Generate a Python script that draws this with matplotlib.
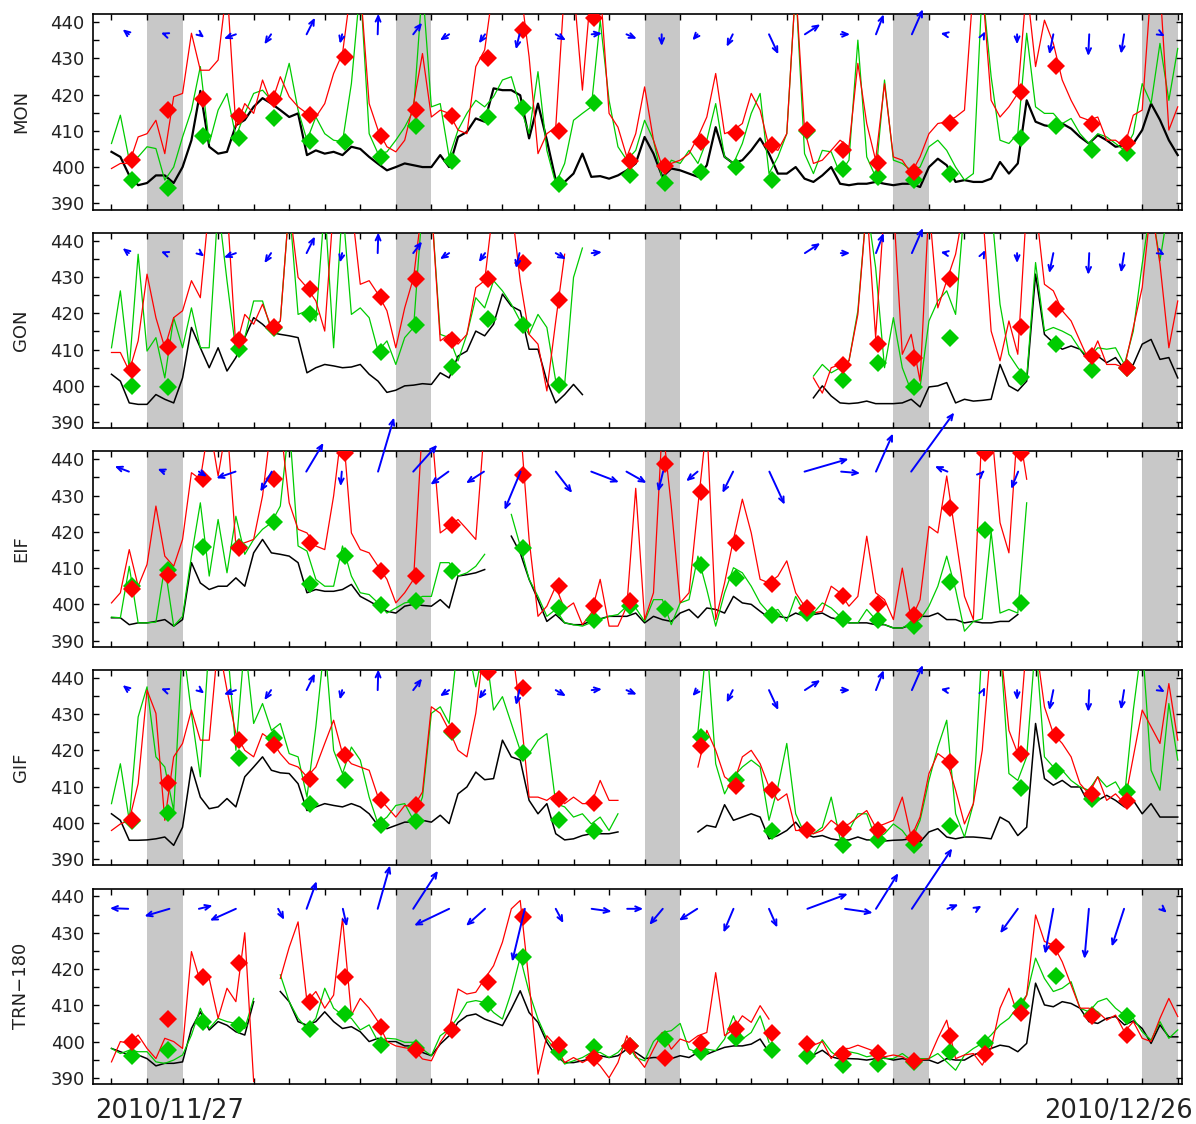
import numpy as np
import matplotlib
matplotlib.use('Agg')
import matplotlib.pyplot as plt
from matplotlib.ticker import MultipleLocator

nan = np.nan

# ---------------- data (6-hourly from 2010/11/27 00:00, day units) ----------------
STATIONS = ['MON', 'GON', 'EIF', 'GIF', 'TRN\u2212180']
SUNDAYS = [1, 8, 15, 22, 29]
STEP = 0.25
MARK_T = [d + 0.58 for d in range(30)]

MON_black = [404.2, 402.8, 397.7, 395.0, 395.6, 397.7, 397.7, 395.6, 400.0, 407.4, 421.0, 405.6,
 403.7, 404.2, 411.5, 413.0, 416.6, 419.0, 417.5, 415.7, 413.8, 414.8, 403.3, 404.6,
 403.7, 404.2, 403.3, 405.6, 405.0, 402.8, 400.9, 399.1, 400.0, 401.0, 400.5, 400.0,
 400.0, 403.3, 400.0, 408.3, 409.7, 413.4, 412.5, 421.7, 421.2, 421.2, 419.8, 407.9,
 417.5, 407.4, 396.4, 395.9, 398.2, 403.7, 397.3, 397.5, 396.8, 397.7, 399.1, 401.0,
 408.3, 403.7, 397.3, 399.6, 399.1, 398.2, 397.3, 400.5, 411.0, 402.8, 401.0, 401.9,
 404.6, 407.9, 403.7, 398.2, 398.2, 400.0, 396.8, 395.9, 397.7, 400.0, 395.4, 395.0,
 395.4, 395.4, 395.9, 395.4, 395.0, 395.4, 395.4, 394.5, 400.0, 402.3, 400.5, 395.9,
 396.4, 395.9, 395.9, 396.8, 401.4, 398.2, 401.0, 418.4, 412.5, 411.5, 411.1, 412.0,
 410.6, 408.3, 406.5, 408.8, 407.4, 405.6, 406.0, 406.5, 410.2, 417.5, 413.0, 407.4,
 403.3]
MON_green = [406.5, 414.3, 401.9, 402.8, 405.6, 405.1, 396.4, 400.0, 408.3, 415.7, 427.7, 406.5,
 415.7, 420.3, 408.3, 414.8, 420.3, 421.2, 418.4, 419.4, 428.6, 415.7, 407.4, 413.8,
 409.2, 407.4, 407.0, 423.0, 450.0, 409.2, 403.7, 404.2, 407.4, 411.0, 415.7, 450.0,
 416.6, 417.5, 402.8, 410.2, 414.8, 418.4, 416.6, 419.4, 424.0, 424.9, 416.6, 409.2,
 426.3, 404.6, 395.4, 401.0, 412.9, 414.8, 416.6, 440.5, 418.4, 405.6, 401.9, 404.6,
 412.9, 407.4, 396.4, 401.9, 401.0, 404.6, 401.0, 407.4, 417.5, 402.8, 401.0, 406.5,
 414.8, 420.3, 398.2, 402.8, 409.2, 450.0, 403.7, 398.2, 404.6, 404.2, 398.2, 401.9,
 435.0, 402.8, 397.3, 424.0, 401.9, 401.0, 399.1, 400.0, 405.6, 407.4, 404.6, 400.0,
 396.4, 398.2, 450.0, 424.9, 407.4, 406.5, 409.2, 436.9, 416.6, 414.8, 414.8, 412.0,
 413.4, 409.2, 406.5, 409.2, 408.3, 406.5, 404.6, 409.2, 423.0, 417.5, 434.1, 418.4,
 432.7]
MON_red = [399.6, 401.0, 401.0, 408.3, 409.2, 412.9, 403.7, 419.4, 420.3, 436.9, 426.7, 426.7,
 429.5, 450.0, 411.0, 417.5, 414.8, 424.0, 417.5, 424.9, 419.4, 416.6, 414.8, 413.8,
 417.5, 425.8, 431.3, 450.0, 450.0, 417.5, 410.2, 405.6, 404.2, 407.4, 417.5, 431.3,
 413.8, 415.7, 414.8, 410.2, 409.2, 427.7, 432.3, 450.0, 450.0, 450.0, 450.0, 430.4,
 403.7, 409.2, 411.0, 450.0, 450.0, 421.2, 450.0, 450.0, 414.8, 411.0, 402.8, 409.2,
 422.1, 407.4, 400.0, 401.0, 401.9, 403.7, 408.3, 413.8, 425.8, 409.2, 410.2, 412.0,
 420.3, 415.7, 405.6, 404.6, 409.2, 450.0, 410.2, 401.0, 401.9, 404.6, 407.4, 405.6,
 428.6, 412.0, 401.9, 423.0, 402.8, 401.9, 398.2, 402.8, 409.2, 412.0, 412.5, 413.8,
 415.7, 450.0, 450.0, 418.4, 413.8, 416.6, 420.3, 450.0, 427.7, 440.5, 434.1, 424.0,
 418.4, 413.8, 412.9, 413.8, 407.4, 407.4, 405.6, 414.3, 415.7, 450.0, 450.0, 410.2,
 416.6]
MON_red_d = [401.9, 415.7, 418.7, 414.1, 418.7, 414.3, 430.4, 408.6, 415.7, 414.0, 430.1, 437.8,
 410.0, 441.0, 401.6, 400.2, 406.9, 409.5, 406.2, 410.2, 404.8, 401.0, 398.7, 412.2,
 nan, 420.6, 427.8, 411.8, 406.7, nan]
MON_green_d = [396.4, 394.3, 408.5, 407.9, 413.4, 407.2, 406.9, 402.8, 411.3, 401.7, 413.7, 416.4,
 395.4, 417.8, 397.7, 395.6, 398.7, 400.0, 396.4, 409.9, 399.6, 397.3, 396.4, 398.2,
 nan, 407.9, 411.3, 404.6, 403.9, nan]

GON_black = [403.2, 401.3, 395.3, 394.9, 394.9, 397.6, 396.3, 395.3, 402.2, 416.1, 410.5, 405.0,
 410.5, 404.1, 407.8, 413.3, 418.8, 417.0, 414.7, 414.2, 413.8, 413.3, 403.6, 405.0,
 405.9, 405.5, 405.0, 405.2, 405.9, 403.2, 401.3, 398.2, 398.8, 400.0, 400.2, 400.6,
 400.4, 403.6, 402.2, 408.2, 409.6, 415.1, 413.8, 417.0, 425.3, 422.0, 420.7, 410.1,
 410.1, 401.3, 395.3, 397.6, 400.4, 397.6, nan, nan, nan, nan, nan, nan,
 nan, nan, nan, nan, nan, nan, nan, nan, nan, nan, nan, nan,
 nan, nan, nan, nan, nan, nan, nan, 396.7, 400.0, 397.2, 395.3, 395.1,
 395.3, 395.8, 395.1, 395.1, 395.1, 395.3, 396.3, 394.2, 399.7, 400.0, 400.9, 395.3,
 396.3, 395.8, 396.0, 396.3, 405.9, 400.0, 398.6, 401.3, 430.8, 414.2, 411.9, 410.1,
 411.0, 410.1, 406.9, 408.2, 406.4, 407.8, 404.5, 405.9, 411.5, 412.8, 407.3, 407.8,
 402.2]
GON_green = [410.5, 426.2, 404.6, 436.3, 409.6, 413.3, 402.2, 418.8, 410.5, 421.5, 410.5, 410.5,
 450.0, 429.0, 409.6, 413.3, 423.4, 423.4, 415.1, 417.9, 450.0, 419.7, 420.7, 417.9,
 450.0, 410.5, 450.0, 419.7, 421.5, 418.8, 409.6, 412.4, 405.9, 413.3, 416.1, 450.0,
 450.0, 414.2, 413.3, 406.9, 414.2, 424.3, 421.5, 429.0, 426.2, 422.5, 417.9, 414.2,
 419.7, 416.1, 401.3, 400.4, 429.9, 438.0, nan, nan, nan, nan, nan, nan,
 nan, nan, nan, nan, nan, nan, nan, nan, nan, nan, nan, nan,
 nan, nan, nan, nan, nan, nan, nan, 402.7, 405.9, 403.6, 405.0, 406.9,
 420.7, 450.0, 432.6, 405.0, 418.8, 405.0, 398.6, 399.5, 417.9, 423.4, 426.2, 419.7,
 450.0, 450.0, 450.0, 450.0, 422.5, 408.7, 405.0, 402.2, 434.0, 415.1, 416.1, 415.1,
 413.8, 410.1, 407.8, 410.5, 410.1, 410.5, 405.9, 415.1, 433.6, 450.0, 434.5, 450.0,
 450.0]
GON_red = [409.2, 409.2, 404.1, 412.4, 430.8, 418.8, 410.5, 418.8, 420.7, 429.0, 424.3, 450.0,
 450.0, 450.0, 410.5, 419.7, 417.0, 422.5, 416.1, 417.9, 450.0, 429.9, 427.1, 423.4,
 415.1, 450.0, 450.0, 450.0, 428.0, 429.0, 425.3, 420.7, 410.5, 421.5, 429.9, 450.0,
 450.0, 412.4, 414.2, 411.5, 414.2, 427.1, 429.0, 450.0, 450.0, 450.0, 429.0, 414.2,
 411.5, 398.6, 417.9, 436.3, nan, nan, nan, nan, nan, nan, nan, nan,
 nan, nan, nan, nan, nan, nan, nan, nan, nan, nan, nan, nan,
 nan, nan, nan, nan, nan, nan, nan, 402.2, 398.0, 405.0, 405.9, 406.9,
 419.7, 450.0, 413.3, 450.0, 450.0, 408.7, 414.2, 401.3, 450.0, 421.5, 429.0, 436.3,
 450.0, 450.0, 450.0, 415.1, 406.9, 417.9, 408.7, 450.0, 450.0, 428.0, 426.2, 420.7,
 417.9, 412.4, 406.9, 412.4, 405.9, 405.9, 405.0, 416.1, 427.1, 450.0, 433.6, 410.5,
 423.4]
GON_red_d = [404.4, 410.7, nan, 412.7, 416.1, 426.8, nan, 424.5, 429.6, 412.7, 429.4, 434.0,
 423.7, nan, nan, nan, nan, nan, nan, nan, 405.7, 411.5, 407.8, 429.4,
 nan, 416.3, 421.3, 408.2, 405.0, nan]
GON_green_d = [400.0, 399.7, nan, 410.1, 415.9, 419.9, nan, 409.4, 416.8, 405.3, 418.4, 416.7,
 400.2, nan, nan, nan, nan, nan, nan, nan, 401.5, 406.4, 399.8, 413.1,
 nan, 402.5, 411.5, 404.5, 405.0, nan]

EIF_black = [396.3, 396.3, 394.4, 394.9, 394.9, 395.3, 395.8, 394.0, 395.8, 411.5, 405.9, 404.1,
 405.0, 405.0, 407.3, 405.0, 414.2, 417.9, 414.2, 413.8, 413.3, 411.5, 403.2, 404.1,
 403.6, 403.6, 404.1, 405.5, 402.2, 400.9, 399.5, 398.1, 397.6, 399.5, 400.0, 399.7,
 399.5, 401.3, 399.0, 407.8, 408.2, 408.7, 409.6, nan, nan, 418.8, 414.2, 406.9,
 401.3, 395.3, 397.2, 394.9, 394.4, 394.4, 395.5, 396.0, 396.7, 396.7, 396.7, 397.6,
 394.9, 396.7, 395.8, 395.3, 397.6, 398.6, 396.3, 399.0, 398.6, 397.6, 402.2, 400.4,
 400.0, 398.1, 396.3, 396.7, 396.3, 397.6, 396.7, 397.2, 397.6, 396.3, 395.8, 394.9,
 394.9, 394.9, 394.4, 394.4, 393.5, 393.5, 394.4, 396.7, 396.7, 397.6, 395.8, 395.8,
 394.9, 395.3, 394.9, 394.9, 395.3, 395.3, 397.2, nan, nan, nan, nan, nan,
 nan, nan, nan, nan, nan, nan, nan, nan, nan, nan, nan, nan,
 nan]
EIF_green = [396.5, 396.3, 410.5, 394.9, 394.9, 395.1, 410.5, 394.0, 396.7, 413.3, 428.0, 407.8,
 423.4, 408.7, 424.3, 413.8, 417.9, 420.7, 422.5, 427.1, 450.0, 416.1, 414.7, 406.9,
 405.0, 405.0, 416.1, 407.8, 403.2, 402.7, 400.4, 397.6, 399.0, 400.4, 400.9, 402.2,
 402.2, 411.5, 411.5, 407.8, 408.7, 410.5, 413.8, nan, nan, 424.8, 416.1, 406.9,
 402.2, 396.7, 398.6, 394.9, 394.4, 394.0, 395.0, 395.8, 396.7, 397.2, 399.5, 399.0,
 395.3, 401.3, 401.3, 394.4, 400.4, 401.3, 413.3, 404.1, 394.0, 403.2, 410.1, 408.7,
 405.0, 400.4, 397.6, 398.6, 395.3, 402.2, 397.6, 397.6, 400.4, 399.0, 396.7, 394.9,
 394.9, 398.6, 395.8, 394.4, 393.5, 393.5, 394.9, 395.8, 399.5, 405.0, 413.3, 404.1,
 392.6, 395.3, 396.0, 420.0, 397.6, 398.6, 397.6, 428.0, nan, nan, nan, nan,
 nan, nan, nan, nan, nan, nan, nan, nan, nan, nan, nan, nan,
 nan]
EIF_red = [400.4, 403.2, 415.1, 405.0, 411.0, 427.1, 413.3, 410.5, 417.9, 436.3, 434.5, 450.0,
 435.4, 450.0, 416.1, 417.0, 417.9, 429.9, 450.0, 450.0, 428.0, 420.7, 419.7, 416.1,
 415.1, 429.9, 450.0, 419.7, 415.1, 414.2, 410.5, 406.9, 400.4, 403.2, 406.9, 450.0,
 450.0, 419.7, 421.5, 423.4, 420.7, 417.9, 450.0, nan, nan, nan, 450.0, 417.9,
 396.7, 399.5, 405.0, 398.6, 400.4, 394.4, 397.6, 406.9, 394.0, 394.0, 399.5, 432.0,
 395.8, 403.2, 450.0, 427.1, 400.4, 403.2, 427.1, 450.0, 395.8, 405.9, 417.9, 429.0,
 419.7, 406.9, 405.9, 407.8, 412.0, 403.2, 399.5, 397.6, 398.1, 405.0, 403.2, 399.5,
 402.2, 418.8, 403.2, 401.3, 395.8, 410.0, 395.8, 401.3, 421.5, 419.7, 435.4, 418.8,
 402.2, 395.8, 450.0, 450.0, 422.5, 414.2, 450.0, 434.5, nan, nan, nan, nan,
 nan, nan, nan, nan, nan, nan, nan, nan, nan, nan, nan, nan,
 nan]
EIF_red_d = [404.1, 408.0, 434.7, 415.6, 434.7, 417.0, 441.8, 409.3, 407.8, 422.0, nan, 435.6,
 405.0, 399.5, 400.9, 438.8, 431.0, 417.0, 405.7, 399.0, 402.2, 400.2, 397.2, 426.6,
 441.8, 441.8, nan, nan, nan, nan]
EIF_green_d = [405.0, 409.6, 415.8, 415.8, 422.7, 405.7, 413.3, 399.8, 400.9, 409.2, nan, 415.6,
 399.0, 395.8, 399.5, 398.8, 410.8, 407.3, 397.2, 397.6, 396.1, 395.6, 394.1, 406.1,
 420.4, 400.4, nan, nan, nan, nan]

GIF_black = [402.5, 400.7, 395.2, 395.2, 395.3, 395.6, 396.1, 393.8, 398.8, 415.4, 407.1, 403.9,
 404.4, 406.7, 404.4, 412.7, 415.4, 418.2, 414.5, 413.8, 413.6, 410.8, 403.4, 404.4,
 405.3, 404.8, 404.4, 405.3, 404.4, 402.5, 399.3, 398.4, 399.3, 400.2, 400.2, 400.7,
 400.2, 402.1, 399.8, 408.0, 409.9, 414.0, 411.9, 412.2, 422.8, 418.2, 417.3, 406.2,
 402.5, 405.3, 397.0, 395.3, 395.6, 396.5, 397.0, 397.0, 397.0, 397.5, nan, nan,
 nan, nan, nan, nan, nan, nan, 397.5, 399.3, 398.8, 405.0, 400.7, 401.6,
 402.5, 401.6, 395.6, 396.5, 397.9, 400.2, 397.0, 396.1, 396.5, 395.6, 395.2, 395.3,
 396.1, 395.3, 395.3, 395.0, 395.2, 395.3, 395.6, 394.7, 397.5, 398.4, 396.1, 395.6,
 396.1, 396.1, 395.9, 395.6, 401.6, 400.2, 396.5, 398.8, 427.4, 412.2, 410.4, 411.7,
 409.9, 409.9, 405.3, 406.2, 407.6, 406.2, 404.4, 406.2, 402.5, 405.3, 401.6, 401.6,
 401.6]
GIF_green = [405.3, 416.3, 400.7, 429.2, 437.5, 418.2, 415.4, 403.4, 450.0, 430.2, 412.7, 450.0,
 450.0, 450.0, 420.0, 450.0, 427.4, 432.9, 425.5, 427.4, 419.1, 418.2, 407.1, 426.5,
 450.0, 420.0, 413.6, 420.9, 417.3, 407.1, 399.7, 401.6, 404.8, 405.3, 400.7, 407.1,
 430.2, 432.0, 427.4, 450.0, 450.0, 437.5, 450.0, 431.1, 434.8, 427.4, 420.0, 419.1,
 422.8, 424.6, 405.3, 404.4, 401.6, 402.5, 399.7, 401.6, 397.9, 402.5, nan, nan,
 nan, nan, nan, nan, nan, nan, 425.0, 450.0, 416.3, 408.0, 412.7, 415.4,
 417.3, 415.4, 400.7, 409.9, 421.9, 402.5, 397.0, 397.0, 398.8, 407.1, 395.6, 397.9,
 402.5, 402.5, 395.6, 397.0, 399.7, 397.9, 394.7, 400.7, 411.7, 420.9, 428.3, 402.5,
 396.1, 405.3, 450.0, 450.0, 450.0, 413.6, 411.7, 418.2, 450.0, 418.2, 415.4, 414.5,
 411.7, 409.9, 409.0, 412.7, 409.9, 411.3, 407.1, 431.1, 450.0, 414.5, 409.0, 432.9,
 417.3]
GIF_red = [397.9, 399.7, 400.7, 410.8, 436.6, 430.2, 400.7, 418.2, 421.9, 431.1, 422.8, 422.8,
 450.0, 436.6, 424.6, 420.0, 418.2, 424.6, 422.8, 419.1, 416.3, 415.4, 412.7, 415.4,
 421.9, 428.3, 419.1, 416.3, 415.4, 414.5, 407.1, 404.4, 401.6, 404.8, 404.4, 408.5,
 432.0, 430.2, 425.5, 420.0, 418.2, 430.2, 450.0, 450.0, 450.0, 450.0, 431.1, 407.1,
 407.1, 406.2, 408.0, 405.3, 407.1, 405.3, 405.3, 411.7, 406.2, 406.2, nan, nan,
 nan, nan, nan, nan, nan, nan, 415.4, 425.5, 420.0, 412.7, 410.8, 418.2,
 420.0, 416.3, 409.9, 406.2, 408.0, 397.9, 397.9, 397.0, 397.9, 400.7, 398.8, 399.7,
 401.6, 403.4, 398.8, 399.7, 400.7, 407.1, 396.1, 401.6, 413.6, 419.1, 417.3, 409.0,
 399.7, 405.3, 420.0, 450.0, 450.0, 425.5, 419.1, 450.0, 450.0, 432.0, 424.6, 421.9,
 418.2, 410.8, 408.0, 412.7, 406.2, 408.0, 405.3, 418.2, 431.1, 426.5, 421.9, 438.4,
 422.8]
GIF_red_d = [400.9, 411.0, nan, 422.8, 421.4, 412.2, 418.6, 406.4, 405.0, 425.4, 441.7, 437.2,
 406.7, 405.6, nan, nan, 421.1, 410.3, 409.0, 398.1, 398.4, 398.1, 395.8, 416.8,
 nan, 418.9, 424.2, 408.0, 406.0, nan]
GIF_green_d = [400.4, 402.7, nan, 417.9, 423.4, 405.3, 411.9, 399.5, 400.5, 425.1, nan, 419.3,
 400.9, 397.7, nan, nan, 423.7, 411.7, 397.7, nan, 394.0, 395.2, 394.0, 399.0,
 nan, 409.6, 414.2, 406.7, 408.5, nan]

TRN_black = [398.1, 397.2, 396.3, 396.3, 395.3, 393.3, 394.0, 394.0, 394.4, 403.6, 408.2, 403.2,
 405.5, 404.5, 402.7, 401.8, 411.0, nan, nan, 413.8, 411.0, 405.5, 404.5, 405.5,
 408.2, 405.5, 403.6, 404.1, 402.7, 400.0, 400.9, 400.0, 400.0, 398.8, 398.8, 397.0,
 396.1, 399.3, 401.6, 405.3, 407.1, 407.6, 406.2, 405.3, 404.4, 409.0, 414.0, 408.0,
 405.3, 399.8, 396.1, 394.2, 394.2, 394.7, 395.3, 396.1, 395.6, 396.1, 397.9, 397.0,
 395.3, 395.6, 395.6, 395.3, 396.1, 395.6, 397.0, 396.5, 397.5, 398.4, 398.8, 398.8,
 399.3, 400.7, 397.0, nan, nan, nan, 396.5, 396.3, 397.6, 395.8, 395.2, 395.3,
 395.2, 394.9, 395.3, 395.5, 394.9, 395.3, 394.9, 394.9, 394.9, 394.0, 395.3, 394.9,
 394.9, 396.3, 397.2, 398.1, 399.0, 398.6, 397.2, 399.5, 416.1, 410.1, 409.6, 411.0,
 410.5, 409.2, 405.5, 405.0, 406.4, 406.9, 404.6, 405.7, 403.6, 399.5, 404.6, 401.3,
 401.3]
TRN_green = [398.1, 396.7, 397.6, 397.2, 397.2, 394.4, 394.0, 394.9, 396.3, 401.8, 409.2, 403.6,
 406.4, 405.5, 405.0, 403.6, 411.9, nan, nan, 418.4, 411.0, 406.4, 403.6, 406.4,
 414.7, 409.2, 407.3, 406.4, 403.2, 404.6, 400.0, 400.9, 400.7, 399.8, 399.8, 397.9,
 396.1, 401.6, 403.4, 406.7, 410.8, 411.3, 410.8, 408.0, 406.2, 413.6, 423.2, 413.6,
 406.2, 400.7, 397.5, 393.8, 394.7, 395.6, 397.0, 397.0, 395.6, 397.0, 399.8, 395.6,
 394.7, 400.0, 402.5, 403.0, 405.0, 397.9, 397.0, 397.9, 397.5, 400.7, 407.1, 400.7,
 402.5, 407.1, 399.8, nan, nan, nan, 397.0, 396.3, 400.5, 397.2, 395.3, 397.2,
 396.7, 395.8, 396.3, 395.3, 395.3, 396.7, 394.9, 395.3, 395.3, 396.7, 394.4, 392.1,
 396.3, 398.1, 399.5, 401.8, 404.6, 406.4, 409.6, 412.8, 423.0, 417.4, 413.8, 414.7,
 416.5, 409.2, 408.2, 411.0, 411.9, 409.2, 407.3, 406.4, 402.7, 400.4, 405.5, 400.9,
 403.2]
TRN_red = [394.4, 400.0, 399.5, 401.8, 398.1, 395.3, 400.9, 400.0, 398.1, 424.8, 416.5, 417.4,
 406.4, 414.7, 411.0, 430.0, 389.0, nan, nan, 417.4, 426.0, 433.0, 411.0, 413.8,
 409.2, 412.8, 434.0, 407.3, 411.9, 409.2, 405.5, 400.0, 398.8, 398.3, 397.9, 395.2,
 394.7, 399.8, 403.4, 414.5, 413.1, 413.6, 417.3, 420.9, 427.4, 436.6, 438.9, 416.3,
 391.0, 401.6, 398.8, 394.2, 395.6, 394.2, 395.6, 393.3, 390.0, 394.2, 401.6, 396.1,
 392.9, 397.9, 402.5, 397.9, 400.7, 399.8, 401.6, 402.5, 419.0, 401.6, 403.4, 407.1,
 405.3, 409.9, 406.2, nan, nan, nan, 399.0, 399.0, 400.0, 395.3, 398.1, 398.1,
 399.0, 398.1, 397.2, 395.8, 396.3, 395.8, 394.4, 394.9, 395.3, 400.9, 405.9, 395.3,
 396.3, 396.7, 393.5, 398.1, 409.2, 414.7, 407.3, 412.8, 434.9, 427.6, 426.6, 422.0,
 415.6, 409.2, 409.2, 408.2, 405.9, 407.3, 402.7, 405.5, 400.9, 400.0, 406.4, 411.9,
 406.9]
TRN_red_d = [399.8, 406.2, 417.7, 421.6, nan, 411.0, 417.7, 403.9, 397.7, 403.3, 416.3, 434.3,
 399.1, 395.6, 398.8, 395.6, 399.6, 403.5, 402.3, 399.2, 396.5, 396.9, 394.6, 401.6,
 396.7, 407.8, 426.2, 407.0, 401.8, nan]
TRN_green_d = [396.1, 397.6, 405.3, 404.5, nan, 403.4, 407.5, 399.0, 398.2, nan, 410.4, 423.2,
 397.2, 398.4, 398.8, 400.8, 397.1, 401.0, 397.8, 396.0, 393.5, 393.8, 394.4, 397.2,
 399.7, 409.8, 418.2, 407.3, 407.1, nan]

# wind arrows: tail time (day), east component (days), north component (ppm units)
ARROW_BASE = 436.6
A_t = [0.49, 1.51, 2.49, 3.50, 4.49, 5.49, 6.49, 7.49, 8.49, 9.50, 10.51, 11.48, 12.50, 13.51, 14.49,
       15.48, 16.49, 17.48, 18.50, 19.51, 20.52, 21.51, 22.52, 23.48, 24.54, 25.48, 26.50, 27.51, 28.49, 29.54]
A_du = [-0.177, -0.121, 0.121, -0.338, -0.189, 0.234, -0.065, 0.017, 0.248, -0.259, -0.174, -0.101, 0.287,
        0.290, 0.290, 0.0, -0.146, -0.172, 0.262, 0.433, 0.262, 0.217, 0.310, -0.155, 0.042, 0.0, -0.115,
        -0.028, -0.087, 0.098]
A_dv = [1.38, 0.44, -0.94, -1.22, -2.76, 4.59, -2.60, 5.69, 3.20, -1.66, -2.49, -4.14, -1.66, 0.28, -1.22,
        -3.23, -1.66, -3.43, -5.52, 2.76, 0.0, 5.52, 6.91, 0.28, 0.83, -2.76, -5.52, -5.99, -5.36, -0.55]
E_t = [0.49, 1.49, 2.46, 3.49, 4.51, 5.48, 6.48, 7.50, 8.49, 9.48, 10.48, 11.51, 12.50, 13.50, 14.49,
       15.52, 16.49, 17.49, 18.51, 19.50, 20.53, 21.51, 22.50, 23.52, 24.53, 25.51]
E_du = [-0.40, -0.194, 0.225, -0.54, -0.324, 0.484, -0.034, 0.45, 0.675, -0.506, -0.506, -0.45, 0.461,
        0.779, 0.563, -0.141, -0.321, -0.301, 0.43, 1.238, 0.535, 0.478, 1.21, -0.355, 0.028, -0.197]
E_dv = [1.49, 0.75, -1.38, -1.82, -5.52, 7.93, -4.03, 14.92, 7.38, -3.59, -3.20, -10.58, -5.88, -2.93,
        -3.12, -5.52, -2.65, -5.88, -9.12, 3.51, -0.44, 10.5, 16.3, 1.49, 0.28, -4.78]
B_t = [0.47, 1.63, 2.46, 3.50, 4.69, 5.49, 6.51, 7.49, 8.49, 9.50, 10.51, 11.63, 12.50, 13.51, 14.51,
       15.51, 16.48, 17.50, 18.50, 19.58, 20.64, 21.51, 22.52, 23.52, 24.34, 25.50, 26.50, 27.50, 28.49, 29.57]
B_du = [-0.515, -0.703, 0.385, -0.732, 0.169, 0.281, 0.113, 0.346, 0.695, -0.985, -0.535, -0.357, 0.214,
        0.563, 0.450, -0.377, -0.515, -0.281, 0.234, 1.137, 0.779, 0.627, 1.134, 0.310, 0.141, -0.498,
        -0.234, -0.124, -0.346, 0.124]
B_dv = [0.17, -2.04, 0.91, -3.23, -3.04, 7.62, -4.89, 11.96, 10.50, -4.61, -4.70, -14.56, -3.95, -0.75,
        0.0, -4.42, -3.23, -6.55, -5.17, 4.14, -1.10, 9.83, 16.66, 1.19, 0.83, -6.74, -12.43, -13.81,
        -10.41, -1.10]

GON_hidden_arrows = [14, 15, 16, 17, 18]
GIF_hidden_arrows = [15]

# ---------------- figure ----------------
plt.rcParams['font.family'] = ['DejaVu Sans']
W, H = 1196, 1124
fig = plt.figure(figsize=(W / 100, H / 100), dpi=100)

LEFT, RIGHT = 93, 1182
TOPS = [14, 232.8, 451.3, 669.8, 888.5]
HPX = 195.5
RED, GREEN, BLUE, GRAY = '#ff0000', '#00cc00', '#0000ff', '#c8c8c8'
TXT = '#222222'


def fit(arr, n):
    a = np.asarray(arr, dtype=float)
    if len(a) < n:
        a = np.concatenate([a, np.full(n - len(a), np.nan)])
    return a[:n]


series = [
    (MON_black, MON_green, MON_red, MON_green_d, MON_red_d, (A_t, A_du, A_dv, [])),
    (GON_black, GON_green, GON_red, GON_green_d, GON_red_d, (A_t, A_du, A_dv, GON_hidden_arrows)),
    (EIF_black, EIF_green, EIF_red, EIF_green_d, EIF_red_d, (E_t, E_du, E_dv, [])),
    (GIF_black, GIF_green, GIF_red, GIF_green_d, GIF_red_d, (A_t, A_du, A_dv, GIF_hidden_arrows)),
    (TRN_black, TRN_green, TRN_red, TRN_green_d, TRN_red_d, (B_t, B_du, B_dv, [])),
]

N = 121
t = np.arange(N) * STEP

for i, (name, (blk, grn, red, grn_d, red_d, arrows)) in enumerate(zip(STATIONS, series)):
    ax = fig.add_axes([LEFT / W, 1 - (TOPS[i] + HPX) / H, (RIGHT - LEFT) / W, HPX / H])
    ax.set_xlim(-0.52, 30.12)
    ax.set_ylim(388.3, 442.2)
    for s in SUNDAYS:
        ax.axvspan(s, s + 1, color=GRAY, lw=0, zorder=0)
    ax.plot(t, fit(blk, N), color='black', lw=1.6 if i == 0 else 1.1, zorder=2)
    ax.plot(t, fit(grn, N), color=GREEN, lw=0.9, zorder=3)
    ax.plot(t, fit(red, N), color=RED, lw=0.9, zorder=4)
    ax.plot(MARK_T, fit(grn_d, 30), 'D', color=GREEN, ms=8.8, mew=0, zorder=5)
    ax.plot(MARK_T, fit(red_d, 30), 'D', color=RED, ms=8.8, mew=0, zorder=6)

    at, au, av, hidden = arrows
    for k, (t0, u, v) in enumerate(zip(at, au, av)):
        if k in hidden:
            continue
        ann = ax.annotate('', xy=(t0 + u, ARROW_BASE + v), xytext=(t0, ARROW_BASE),
                          xycoords='data', textcoords='data', annotation_clip=False,
                          arrowprops=dict(arrowstyle='->,head_length=0.5,head_width=0.22',
                                          color=BLUE, lw=1.4, shrinkA=0, shrinkB=0,
                                          mutation_scale=8),
                          zorder=8)
        ann.arrow_patch.set_clip_on(False)

    ax.xaxis.set_major_locator(MultipleLocator(1))
    ax.set_yticks([390, 400, 410, 420, 430, 440])
    ax.yaxis.set_minor_locator(MultipleLocator(5))
    ax.tick_params(axis='both', which='both', direction='in', top=True, right=True,
                   length=4.2, width=1.0, colors='black')
    ax.tick_params(axis='x', labelbottom=False)
    ax.tick_params(axis='y', labelsize=13, labelcolor=TXT, pad=6)
    for sp in ax.spines.values():
        sp.set_linewidth(1.2)
    fig.text(21 / W, 1 - (TOPS[i] + HPX / 2) / H, name, rotation=90, ha='center', va='center',
             fontsize=13, color=TXT)

fig.text(170 / W, 1 - 1111 / H, '2010/11/27', ha='center', va='center', fontsize=18.5, color=TXT)
fig.text(1118 / W, 1 - 1111 / H, '2010/12/26', ha='center', va='center', fontsize=18.5, color=TXT)

fig.savefig('out.png', dpi=100)
